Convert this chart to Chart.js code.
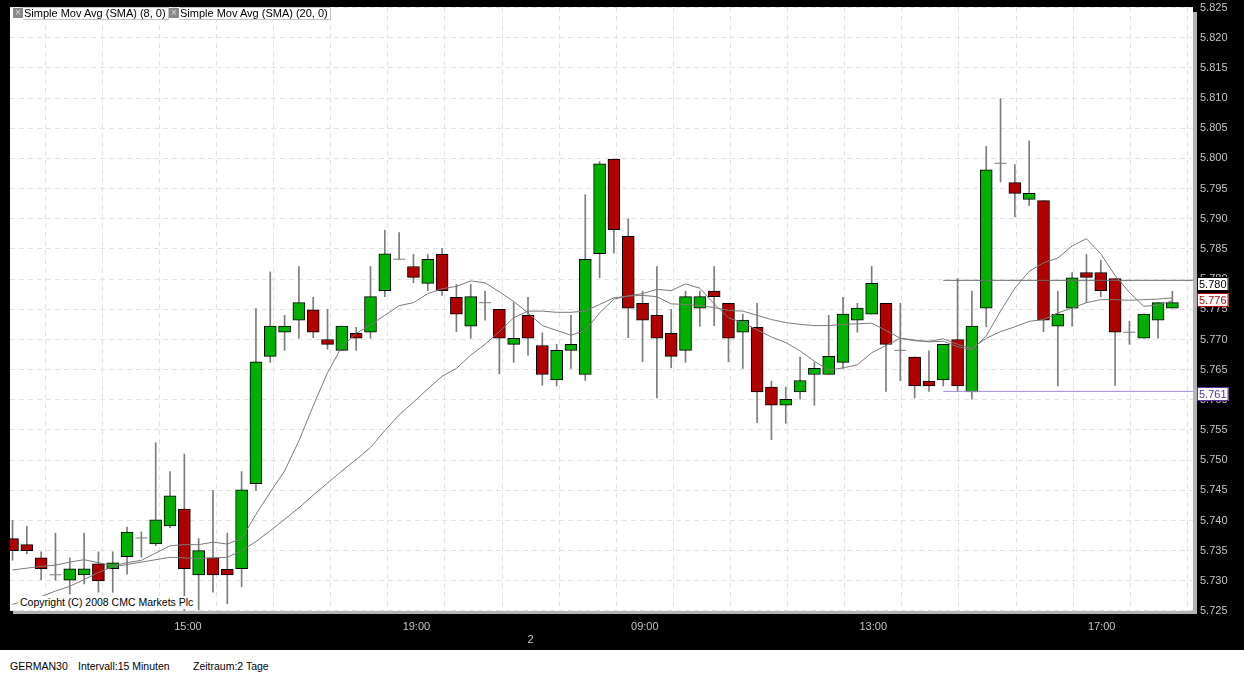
<!DOCTYPE html>
<html>
<head>
<meta charset="utf-8">
<title>GERMAN30 15 Minuten</title>
<script src="https://cdn.jsdelivr.net/npm/chart.js@4/dist/chart.umd.min.js"></script>
<style>
  html, body { margin: 0; padding: 0; background: #fff; font-family: "Liberation Sans", Arial, sans-serif; }
  #wrap { position: relative; width: 1244px; height: 650px; background: #000; }
  #chart { display: block; }
  .leg { position: absolute; top: 7px; height: 12px; display: flex; font-size: 11px; line-height: 12px; color: #000; }
  .leg .ico { width: 10px; height: 10px; margin-top: 1px; background: #8a8a8a; color: #ddd; font-size: 10px; line-height: 10px; text-align: center; }
  .leg .txt { border: 1px solid #c4c4c4; border-left: none; padding: 0 2px 0 1px; height: 11px; line-height: 11px; background: #fff; }
  #copy { position: absolute; left: 18px; top: 596px; font-size: 10.5px; line-height: 13px; background: #fff; color: #000; padding: 0 2px; }
  #foot { position: relative; height: 25px; font-size: 10.5px; color: #000; }
  #foot span { position: absolute; top: 10px; }
</style>
</head>
<body>
<div id="wrap">
  <canvas id="chart" width="1244" height="650"></canvas>
  <div class="leg" style="left:13px"><span class="ico">&#215;</span><span class="txt">Simple Mov Avg (SMA) (8, 0)</span></div>
  <div class="leg" style="left:169px"><span class="ico">&#215;</span><span class="txt">Simple Mov Avg (SMA) (20, 0)</span></div>
  <div id="copy">Copyright (C) 2008 CMC Markets Plc</div>
</div>
<div id="foot">
  <span style="left:10px">GERMAN30</span>
  <span style="left:78px">Intervall:15 Minuten</span>
  <span style="left:193px">Zeitraum:2 Tage</span>
</div>
<script>
// 15-minute candles, oldest first
const opens = [
  5.7370, 5.7360, 5.7338, 5.7310, 5.7301, 5.7310, 5.7328, 5.7320, 5.7340, 5.7371,
  5.7361, 5.7391, 5.7419, 5.7310, 5.7338, 5.7319, 5.7320, 5.7461, 5.7672, 5.7712,
  5.7732, 5.7749, 5.7700, 5.7682, 5.7710, 5.7712, 5.7781, 5.7833, 5.7821, 5.7793,
  5.7841, 5.7770, 5.7722, 5.7761, 5.7750, 5.7692, 5.7740, 5.7690, 5.7633, 5.7682,
  5.7642, 5.7842, 5.7999, 5.7871, 5.7760, 5.7740, 5.7710, 5.7682, 5.7752, 5.7780,
  5.7760, 5.7712, 5.7720, 5.7621, 5.7591, 5.7613, 5.7642, 5.7642, 5.7662, 5.7732,
  5.7742, 5.7760, 5.7682, 5.7671, 5.7631, 5.7633, 5.7700, 5.7613, 5.7752, 5.7992,
  5.7960, 5.7932, 5.7930, 5.7722, 5.7752, 5.7811, 5.7811, 5.7801, 5.7712, 5.7702,
  5.7732, 5.7752
];
const highs = [
  5.7400, 5.7390, 5.7348, 5.7379, 5.7338, 5.7379, 5.7348, 5.7348, 5.7389, 5.7381,
  5.7529, 5.7481, 5.7510, 5.7370, 5.7450, 5.7379, 5.7481, 5.7751, 5.7812, 5.7740,
  5.7821, 5.7770, 5.7750, 5.7722, 5.7720, 5.7821, 5.7881, 5.7877, 5.7841, 5.7841,
  5.7851, 5.7791, 5.7791, 5.7780, 5.7750, 5.7761, 5.7770, 5.7711, 5.7692, 5.7740,
  5.7940, 5.7995, 5.7999, 5.7900, 5.7780, 5.7821, 5.7750, 5.7780, 5.7780, 5.7821,
  5.7760, 5.7742, 5.7760, 5.7631, 5.7621, 5.7671, 5.7662, 5.7740, 5.7770, 5.7760,
  5.7821, 5.7760, 5.7760, 5.7671, 5.7681, 5.7692, 5.7801, 5.7780, 5.8020, 5.8099,
  5.7990, 5.8029, 5.7930, 5.7780, 5.7811, 5.7841, 5.7831, 5.7801, 5.7730, 5.7742,
  5.7761, 5.7780
];
const lows = [
  5.7334, 5.7345, 5.7302, 5.7301, 5.7278, 5.7295, 5.7281, 5.7281, 5.7311, 5.7339,
  5.7358, 5.7388, 5.7251, 5.7252, 5.7281, 5.7262, 5.7290, 5.7450, 5.7662, 5.7682,
  5.7702, 5.7703, 5.7684, 5.7682, 5.7682, 5.7702, 5.7771, 5.7833, 5.7794, 5.7781,
  5.7773, 5.7713, 5.7702, 5.7732, 5.7643, 5.7662, 5.7674, 5.7624, 5.7623, 5.7652,
  5.7632, 5.7802, 5.7843, 5.7703, 5.7663, 5.7603, 5.7653, 5.7662, 5.7722, 5.7723,
  5.7663, 5.7652, 5.7562, 5.7534, 5.7561, 5.7601, 5.7591, 5.7642, 5.7652, 5.7712,
  5.7742, 5.7614, 5.7632, 5.7603, 5.7614, 5.7623, 5.7614, 5.7601, 5.7721, 5.7961,
  5.7903, 5.7922, 5.7713, 5.7623, 5.7722, 5.7761, 5.7771, 5.7624, 5.7692, 5.7702,
  5.7702, 5.7752
];
const closes = [
  5.7350, 5.7350, 5.7320, 5.7310, 5.7320, 5.7320, 5.7300, 5.7330, 5.7381, 5.7371,
  5.7401, 5.7441, 5.7320, 5.7350, 5.7310, 5.7310, 5.7451, 5.7663, 5.7722, 5.7722,
  5.7761, 5.7712, 5.7692, 5.7722, 5.7702, 5.7771, 5.7842, 5.7833, 5.7803, 5.7833,
  5.7781, 5.7742, 5.7771, 5.7761, 5.7702, 5.7702, 5.7702, 5.7642, 5.7682, 5.7692,
  5.7833, 5.7991, 5.7882, 5.7752, 5.7732, 5.7702, 5.7672, 5.7771, 5.7771, 5.7771,
  5.7702, 5.7732, 5.7613, 5.7591, 5.7601, 5.7632, 5.7652, 5.7672, 5.7742, 5.7752,
  5.7793, 5.7692, 5.7682, 5.7623, 5.7623, 5.7692, 5.7623, 5.7722, 5.7981, 5.7992,
  5.7942, 5.7942, 5.7732, 5.7742, 5.7802, 5.7803, 5.7781, 5.7712, 5.7712, 5.7742,
  5.7761, 5.7761
];
// moving averages
const sma8 = [
  5.7318, 5.7321, 5.7324, 5.7326, 5.7331, 5.7335, 5.7330, 5.7325, 5.7330, 5.7334,
  5.7346, 5.7358, 5.7360, 5.7360, 5.7364, 5.7361, 5.7370, 5.7410, 5.7447, 5.7482,
  5.7532, 5.7590, 5.7645, 5.7688, 5.7710, 5.7724, 5.7740, 5.7756, 5.7761, 5.7776,
  5.7784, 5.7788, 5.7797, 5.7794, 5.7779, 5.7763, 5.7744, 5.7723, 5.7715, 5.7707,
  5.7715, 5.7744, 5.7767, 5.7772, 5.7776, 5.7783, 5.7781, 5.7792, 5.7785, 5.7759,
  5.7736, 5.7728, 5.7716, 5.7704, 5.7695, 5.7681, 5.7664, 5.7649, 5.7653, 5.7658,
  5.7678, 5.7690, 5.7702, 5.7699, 5.7696, 5.7697, 5.7688, 5.7683, 5.7706, 5.7747,
  5.7785, 5.7813, 5.7827, 5.7835, 5.7855, 5.7867, 5.7842, 5.7806, 5.7778, 5.7755,
  5.7757, 5.7764
];
const sma20 = [
  5.7261, 5.7268, 5.7274, 5.7283, 5.7291, 5.7302, 5.7314, 5.7323, 5.7327, 5.7331,
  5.7335, 5.7339, 5.7338, 5.7337, 5.7338, 5.7339, 5.7350, 5.7365, 5.7383, 5.7402,
  5.7421, 5.7442, 5.7462, 5.7482, 5.7501, 5.7521, 5.7549, 5.7575, 5.7596, 5.7618,
  5.7639, 5.7652, 5.7674, 5.7692, 5.7713, 5.7736, 5.7747, 5.7747, 5.7745, 5.7745,
  5.7747, 5.7758, 5.7769, 5.7772, 5.7773, 5.7771, 5.7759, 5.7758, 5.7756, 5.7753,
  5.7748, 5.7747, 5.7740, 5.7733, 5.7728, 5.7725, 5.7723, 5.7723, 5.7725, 5.7726,
  5.7727, 5.7715, 5.7702, 5.7698, 5.7697, 5.7701, 5.7692, 5.7685, 5.7702, 5.7713,
  5.7721, 5.7730, 5.7733, 5.7744, 5.7752, 5.7761, 5.7766, 5.7766, 5.7765, 5.7766,
  5.7767, 5.7769
];
// horizontal lines drawn from candle 65 to the right edge
const levelStart = 65;
const levelValues = [5.7798, 5.7614];
const tagTexts = ['5.780', '5.776', '5.761'];
const tagValues = [5.7792, 5.7766, 5.7609];
// x labels, one per vertical grid line (every 4 candles)
const xTickText = ['', '', '', '15:00', '', '', '', '19:00', '', ['', '2'], '', '09:00',
                   '', '', '', '13:00', '', '', '', '17:00', ''];

const up = '#00b000', down = '#b00000', wickColor = '#7c7c7c';
const xMin = -0.175, xMax = 82.44;
const gridFirst = 0.29, gridStep = 3.988;

const wickData = [], bodyData = [], dojiData = [];
opens.forEach((o, i) => {
    wickData.push({ x: i, y: [lows[i], highs[i]] });
    if (o === closes[i]) dojiData.push({ x: i, y: o });
    else bodyData.push({ x: i, y: [o, closes[i]] });
});
const levelColors = ['#6a6a6a', '#a48ad0'];
const levelSets = levelValues.map((v, j) => ({
    type: 'line',
    data: [{ x: levelStart, y: v }, { x: xMax, y: v }],
    borderColor: levelColors[j], borderWidth: 1, pointRadius: 0, order: 0
}));

const frame = {
    id: 'frame',
    beforeDraw(chart) {
        const { ctx, chartArea: a } = chart;
        ctx.save();
        ctx.fillStyle = '#b4b4b4';
        ctx.fillRect(a.right, a.top + 5, 4, a.bottom - a.top - 2);
        ctx.fillRect(a.left + 3, a.bottom, a.right - a.left + 1, 3);
        ctx.fillStyle = '#fff';
        ctx.fillRect(a.left, a.top, a.right - a.left, a.bottom - a.top);
        ctx.restore();
    },
    afterDraw(chart) {
        const { ctx, chartArea: a, scales: { y } } = chart;
        const colors = ['#000', '#c00000', '#5a2ea0'];
        ctx.save();
        ctx.font = '11px "Liberation Sans", Arial, sans-serif';
        ctx.textBaseline = 'middle';
        tagTexts.forEach((t, i) => {
            const cy = Math.round(y.getPixelForValue(tagValues[i]));
            const w = ctx.measureText(t).width + 4;
            ctx.fillStyle = '#fff';
            ctx.fillRect(a.right + 4, cy - 7, w, 14);
            ctx.strokeStyle = colors[i];
            ctx.lineWidth = 1;
            ctx.strokeRect(a.right + 4.5, cy - 6.5, w - 1, 13);
            ctx.fillStyle = colors[i];
            ctx.fillText(t, a.right + 6, cy + 0.5);
        });
        ctx.restore();
    }
};

Chart.defaults.font.family = '"Liberation Sans", Arial, sans-serif';
Chart.defaults.font.size = 11;

new Chart(document.getElementById('chart'), {
    type: 'bar',
    data: {
        datasets: [
            { type: 'line', data: sma8.map((v, i) => ({ x: i, y: v })), borderColor: '#7a7a7a', borderWidth: 1, pointRadius: 0, order: 0 },
            { type: 'line', data: sma20.map((v, i) => ({ x: i, y: v })), borderColor: '#7a7a7a', borderWidth: 1, pointRadius: 0, order: 0 },
            ...levelSets,
            { type: 'line', data: dojiData, showLine: false, pointStyle: 'line', pointRadius: 6, borderColor: wickColor, borderWidth: 1, order: 1 },
            {
                data: bodyData, grouped: false, barThickness: 12, order: 2,
                backgroundColor: c => closes[c.raw.x] > opens[c.raw.x] ? up : down,
                borderColor: '#000', borderWidth: 1, borderSkipped: false
            },
            { data: wickData, grouped: false, barThickness: 1, backgroundColor: wickColor, order: 3 }
        ]
    },
    options: {
        responsive: false,
        animation: false,
        events: [],
        layout: { padding: { left: 10, top: 5 } },
        plugins: { legend: { display: false }, tooltip: { enabled: false } },
        scales: {
            x: {
                type: 'linear', min: xMin, max: xMax, offset: false,
                afterBuildTicks: s => { s.ticks = xTickText.map((t, j) => ({ value: gridFirst + j * gridStep })); },
                afterFit: s => { s.height = 39; s.paddingLeft = 0; s.paddingRight = 0; },
                grid: { color: '#e2e2e2', drawTicks: false },
                border: { display: false, dash: [5, 4] },
                ticks: { color: '#c4c4c4', padding: 9, maxRotation: 0, autoSkip: false, callback: (v, i) => xTickText[i] }
            },
            y: {
                position: 'right', min: 5.725, max: 5.8251,
                afterFit: s => { s.width = 51; s.paddingTop = 0; s.paddingBottom = 0; },
                grid: { color: '#e2e2e2', drawTicks: false },
                border: { display: false, dash: [5, 4] },
                ticks: { color: '#c4c4c4', padding: 7, stepSize: 0.005, includeBounds: false, callback: v => v.toFixed(3) }
            }
        }
    },
    plugins: [frame]
});
</script>
</body>
</html>
